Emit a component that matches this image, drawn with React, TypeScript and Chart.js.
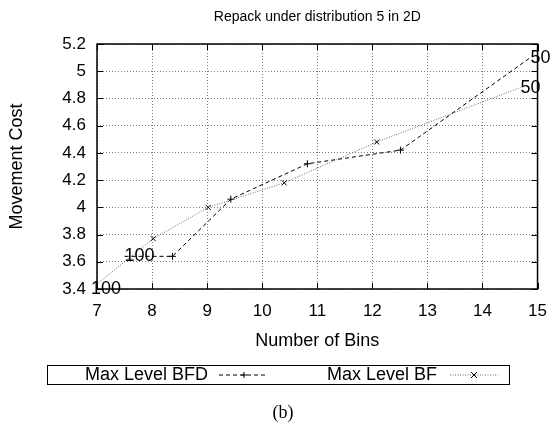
import { useEffect, useRef } from 'react';
import { Chart, registerables } from 'chart.js';

Chart.register(...registerables);

const chartTitle = 'Repack under distribution 5 in 2D';
const xTitle = 'Number of Bins';
const yTitle = 'Movement Cost';
const caption = '(b)';

const xTicks = [7, 8, 9, 10, 11, 12, 13, 14, 15];
const yTicks = [3.4, 3.6, 3.8, 4.0, 4.2, 4.4, 4.6, 4.8, 5.0, 5.2];

const bfdName = 'Max Level BFD';
const bfdBins = [7.5, 8.37, 9.43, 10.82, 12.51, 14.87];
const bfdCost = [3.64, 3.64, 4.06, 4.32, 4.42, 5.1];
const bfdTags = ['100', '', '', '', '', '50'];

const bfName = 'Max Level BF';
const bfBins = [6.89, 8.02, 9.02, 10.4, 12.08, 14.69];
const bfCost = [3.4, 3.77, 4.0, 4.18, 4.48, 4.88];
const bfTags = ['100', '', '', '', '', '50'];

const SANS = '"Liberation Sans", Arial, Helvetica, sans-serif';
const SERIF = '"Liberation Serif", "Times New Roman", serif';

const BFD_COLOR = '#000000';
const BF_COLOR = '#6a6a6a';
const BFD_DASH = [4, 3];
const BF_DASH = [1, 1.5];

function drawMarker(ctx: CanvasRenderingContext2D, kind: 'plus' | 'cross', cx: number, cy: number, r: number) {
  ctx.beginPath();
  if (kind === 'plus') {
    ctx.moveTo(cx - r, cy); ctx.lineTo(cx + r, cy);
    ctx.moveTo(cx, cy - r); ctx.lineTo(cx, cy + r);
  } else {
    ctx.moveTo(cx - r, cy - r); ctx.lineTo(cx + r, cy + r);
    ctx.moveTo(cx - r, cy + r); ctx.lineTo(cx + r, cy - r);
  }
  ctx.stroke();
}

const decor = {
  id: 'decor',
  afterDraw(chart: any) {
    const { ctx, chartArea: a, scales } = chart;
    const xs = scales.x;
    const ys = scales.y;
    ctx.save();
    ctx.setLineDash([]);
    ctx.strokeStyle = '#000';
    ctx.fillStyle = '#000';

    // inward ticks (all four sides)
    ctx.lineWidth = 1;
    const tl = 6;
    ctx.beginPath();
    xTicks.forEach((v) => {
      const px = Math.round(xs.getPixelForValue(v)) + 0.5;
      ctx.moveTo(px, a.bottom); ctx.lineTo(px, a.bottom - tl);
      ctx.moveTo(px, a.top); ctx.lineTo(px, a.top + tl);
    });
    yTicks.forEach((v) => {
      const py = Math.round(ys.getPixelForValue(v)) + 0.5;
      ctx.moveTo(a.left, py); ctx.lineTo(a.left + tl, py);
      ctx.moveTo(a.right, py); ctx.lineTo(a.right - tl, py);
    });
    ctx.stroke();

    // frame
    ctx.lineWidth = 1.5;
    ctx.strokeRect(a.left, a.top, a.right - a.left, a.bottom - a.top);

    // point tags (left-justified at the point)
    ctx.font = `18px ${SANS}`;
    ctx.textAlign = 'left';
    ctx.textBaseline = 'middle';
    [bfdTags, bfTags].forEach((tags, i) => {
      const meta = chart.getDatasetMeta(i);
      tags.forEach((t, j) => {
        if (!t) return;
        const el = meta.data[j];
        ctx.fillText(t, el.x, el.y);
      });
    });

    // title
    ctx.textAlign = 'center';
    ctx.font = `14px ${SANS}`;
    ctx.fillText(chartTitle, (a.left + a.right) / 2, 17);

    // legend
    const lx1 = 47, lx2 = 509, ly1 = 365, ly2 = 384;
    ctx.lineWidth = 1;
    ctx.strokeRect(lx1 + 0.5, ly1 + 0.5, lx2 - lx1, ly2 - ly1);
    const lyc = (ly1 + ly2) / 2 + 0.5;
    ctx.font = `18px ${SANS}`;
    ctx.textAlign = 'right';
    ctx.fillText(bfdName, 208, lyc);
    ctx.fillText(bfName, 437, lyc);

    ctx.strokeStyle = BFD_COLOR;
    ctx.setLineDash(BFD_DASH);
    ctx.beginPath(); ctx.moveTo(219, lyc); ctx.lineTo(267, lyc); ctx.stroke();
    ctx.setLineDash([]);
    drawMarker(ctx, 'plus', 244, lyc, 3);

    ctx.strokeStyle = BF_COLOR;
    ctx.setLineDash(BF_DASH);
    ctx.beginPath(); ctx.moveTo(450, lyc); ctx.lineTo(498, lyc); ctx.stroke();
    ctx.setLineDash([]);
    ctx.strokeStyle = '#000';
    drawMarker(ctx, 'cross', 474, lyc, 3);

    // caption
    ctx.font = `18px ${SERIF}`;
    ctx.textAlign = 'center';
    ctx.fillStyle = '#000';
    ctx.fillText(caption, 283, 413);

    ctx.restore();
  },
};

export default function App() {
  const ref = useRef<HTMLCanvasElement>(null);

  useEffect(() => {
    if (!ref.current) return;
    const radii = (tags: string[]) => tags.map((t) => (t ? 0 : 3.5));
    const chart = new Chart(ref.current, {
      type: 'scatter',
      data: {
        datasets: [
          {
            label: bfdName,
            data: bfdBins.map((b, i) => ({ x: b, y: bfdCost[i] })),
            showLine: true,
            borderColor: BFD_COLOR,
            borderWidth: 1,
            borderDash: BFD_DASH,
            pointStyle: 'cross',
            pointRadius: radii(bfdTags),
            pointBorderColor: '#000',
            pointBorderWidth: 1,
            pointBackgroundColor: '#000',
          },
          {
            label: bfName,
            data: bfBins.map((b, i) => ({ x: b, y: bfCost[i] })),
            showLine: true,
            borderColor: BF_COLOR,
            borderWidth: 1,
            borderDash: BF_DASH,
            pointStyle: 'crossRot',
            pointRadius: radii(bfTags),
            pointBorderColor: '#000',
            pointBorderWidth: 1,
            pointBackgroundColor: '#000',
          },
        ],
      },
      options: {
        responsive: false,
        animation: false,
        layout: { padding: { left: 0, top: 44, right: 14, bottom: 0 } },
        plugins: {
          legend: { display: false },
          title: { display: false },
          tooltip: { enabled: false },
        },
        scales: {
          x: {
            type: 'linear',
            min: 7,
            max: 15,
            afterBuildTicks: (s: any) => { s.ticks = xTicks.map((v) => ({ value: v })); },
            afterFit: (s: any) => { s.height = 427 - 289; },
            ticks: {
              color: '#000',
              font: { family: SANS, size: 17 },
              padding: 12,
              maxRotation: 0,
              callback: (v: any) => String(v),
            },
            grid: { color: '#7a7a7a', lineWidth: 1, drawTicks: false },
            border: { display: false, dash: [1, 2] },
            title: {
              display: true,
              text: xTitle,
              color: '#000',
              font: { family: SANS, size: 18 },
              padding: { top: 0, bottom: 75 },
            },
          },
          y: {
            type: 'linear',
            min: 3.4,
            max: 5.2,
            afterBuildTicks: (s: any) => { s.ticks = yTicks.map((v) => ({ value: v })); },
            afterFit: (s: any) => { s.width = 97; },
            ticks: {
              color: '#000',
              font: { family: SANS, size: 17 },
              padding: 11,
              callback: (v: any) => String(+Number(v).toFixed(1)),
            },
            grid: { color: '#7a7a7a', lineWidth: 1, drawTicks: false },
            border: { display: false, dash: [1, 2] },
            title: {
              display: true,
              text: yTitle,
              color: '#000',
              font: { family: SANS, size: 18 },
              padding: { top: 6, bottom: 0 },
            },
          },
        },
      },
      plugins: [decor],
    } as any);
    return () => chart.destroy();
  }, []);

  return (
    <div style={{ position: 'absolute', left: 0, top: 0, width: 559, height: 427, background: '#fff' }}>
      <canvas ref={ref} width={559} height={427} style={{ display: 'block', width: 559, height: 427 }} />
    </div>
  );
}
